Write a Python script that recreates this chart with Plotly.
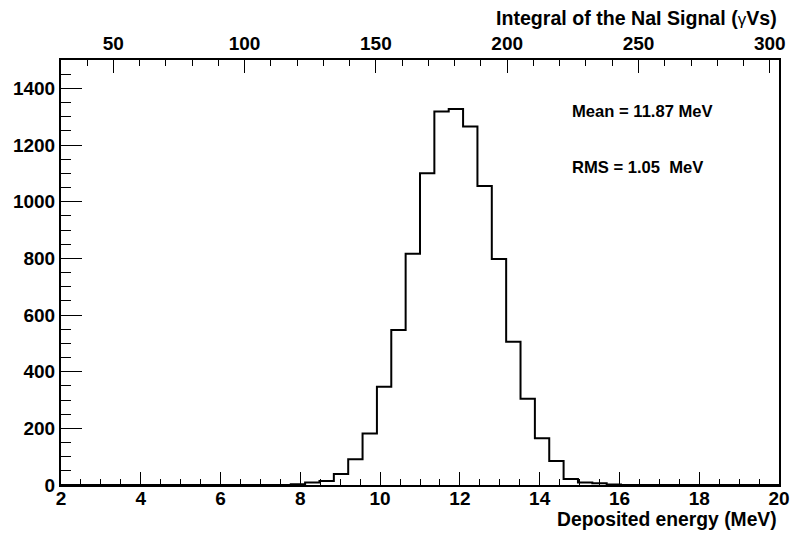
import numpy as np
import plotly.graph_objects as go

# ---- data ----
energy_min = 2.0
energy_max = 20.0
n_bins = 50
counts = [0] * 16 + [3, 9, 14, 39, 91, 182, 347, 547, 816, 1100, 1318, 1327,
                     1265, 1055, 798, 506, 304, 165, 85, 21, 9, 6, 2] + [0] * 11
x_ticks = [2, 4, 6, 8, 10, 12, 14, 16, 18, 20]
y_ticks = [0, 200, 400, 600, 800, 1000, 1200, 1400]
top_ticks = [50, 100, 150, 200, 250, 300]
top_range = [30.1, 303.5]
mean_text = "Mean = 11.87 MeV"
rms_text = "RMS = 1.05  MeV"

edges = np.linspace(energy_min, energy_max, n_bins + 1)
xs = list(edges)
ys = list(counts) + [counts[-1]]

FONT = "Liberation Sans, Arial, Helvetica, sans-serif"

fig = go.Figure()
fig.add_trace(go.Scatter(x=xs, y=ys, mode="lines", line=dict(color="black", width=2, shape="hv"),
                         hoverinfo="skip", showlegend=False))
# invisible helper trace so the top (secondary) axis is rendered
fig.add_trace(go.Scatter(x=top_ticks, y=[0] * len(top_ticks), xaxis="x2", yaxis="y", mode="markers",
                         marker=dict(opacity=0, size=1), hoverinfo="skip", showlegend=False))

fig.update_layout(
    template="none",
    width=793, height=533, autosize=False,
    margin=dict(l=61, r=14, t=60, b=48, pad=0),
    paper_bgcolor="white", plot_bgcolor="white",
    font=dict(family=FONT, size=19, color="black", weight="bold"),
    showlegend=False,
    xaxis=dict(range=[energy_min, energy_max], tickvals=x_ticks, ticktext=[str(v) for v in x_ticks],
               ticks="inside", ticklen=13, tickwidth=1, tickcolor="black",
               minor=dict(dtick=0.5, tick0=0, ticks="inside", ticklen=6.5, tickwidth=1, tickcolor="black"),
               showline=True, linecolor="black", linewidth=2, mirror=False,
               showgrid=False, zeroline=False, ticklabelstandoff=-5, automargin=False,
               tickfont=dict(family=FONT, size=19, color="black", weight="bold")),
    xaxis2=dict(range=top_range, overlaying="x", side="top", anchor="y",
                tickvals=top_ticks, ticktext=[str(v) for v in top_ticks],
                ticks="inside", ticklen=13, tickwidth=1, tickcolor="black",
                minor=dict(dtick=10, tick0=0, ticks="inside", ticklen=6, tickwidth=1, tickcolor="black"),
                showline=True, linecolor="black", linewidth=2, automargin=False,
                showgrid=False, zeroline=False,
                tickfont=dict(family=FONT, size=19, color="black", weight="bold")),
    yaxis=dict(range=[0, 1500], tickvals=y_ticks, ticktext=[str(v) for v in y_ticks],
               ticks="inside", ticklen=21, tickwidth=1, tickcolor="black",
               minor=dict(dtick=50, tick0=0, ticks="inside", ticklen=10, tickwidth=1, tickcolor="black"),
               showline=True, linecolor="black", linewidth=2, mirror=True, automargin=False,
               showgrid=False, zeroline=False,
               tickfont=dict(family=FONT, size=19, color="black", weight="bold")),
)

fig.add_annotation(x=1.0, y=-0.082, xref="paper", yref="paper", xanchor="right", yanchor="middle",
                   text="Deposited energy (MeV)", showarrow=False,
                   font=dict(family=FONT, size=19.3, color="black", weight="bold"))
fig.add_annotation(x=1.0, y=1.099, xref="paper", yref="paper", xanchor="right", yanchor="middle",
                   text="<b>Integral of the NaI Signal (</b><span style='font-size:17px'>γ</span><b>Vs)</b>",
                   showarrow=False,
                   font=dict(family=FONT, size=19.6, color="black", weight="normal"))
fig.add_annotation(x=14.76, y=1318, xref="x", yref="y", xanchor="left", yanchor="middle",
                   text=mean_text, showarrow=False,
                   font=dict(family=FONT, size=16.6, color="black", weight="bold"))
fig.add_annotation(x=14.76, y=1121, xref="x", yref="y", xanchor="left", yanchor="middle",
                   text=rms_text, showarrow=False,
                   font=dict(family=FONT, size=16.6, color="black", weight="bold"))

fig.write_html("out.html", config={"displayModeBar": False},
               post_script="document.body.style.margin='0';document.body.style.overflow='hidden';")
